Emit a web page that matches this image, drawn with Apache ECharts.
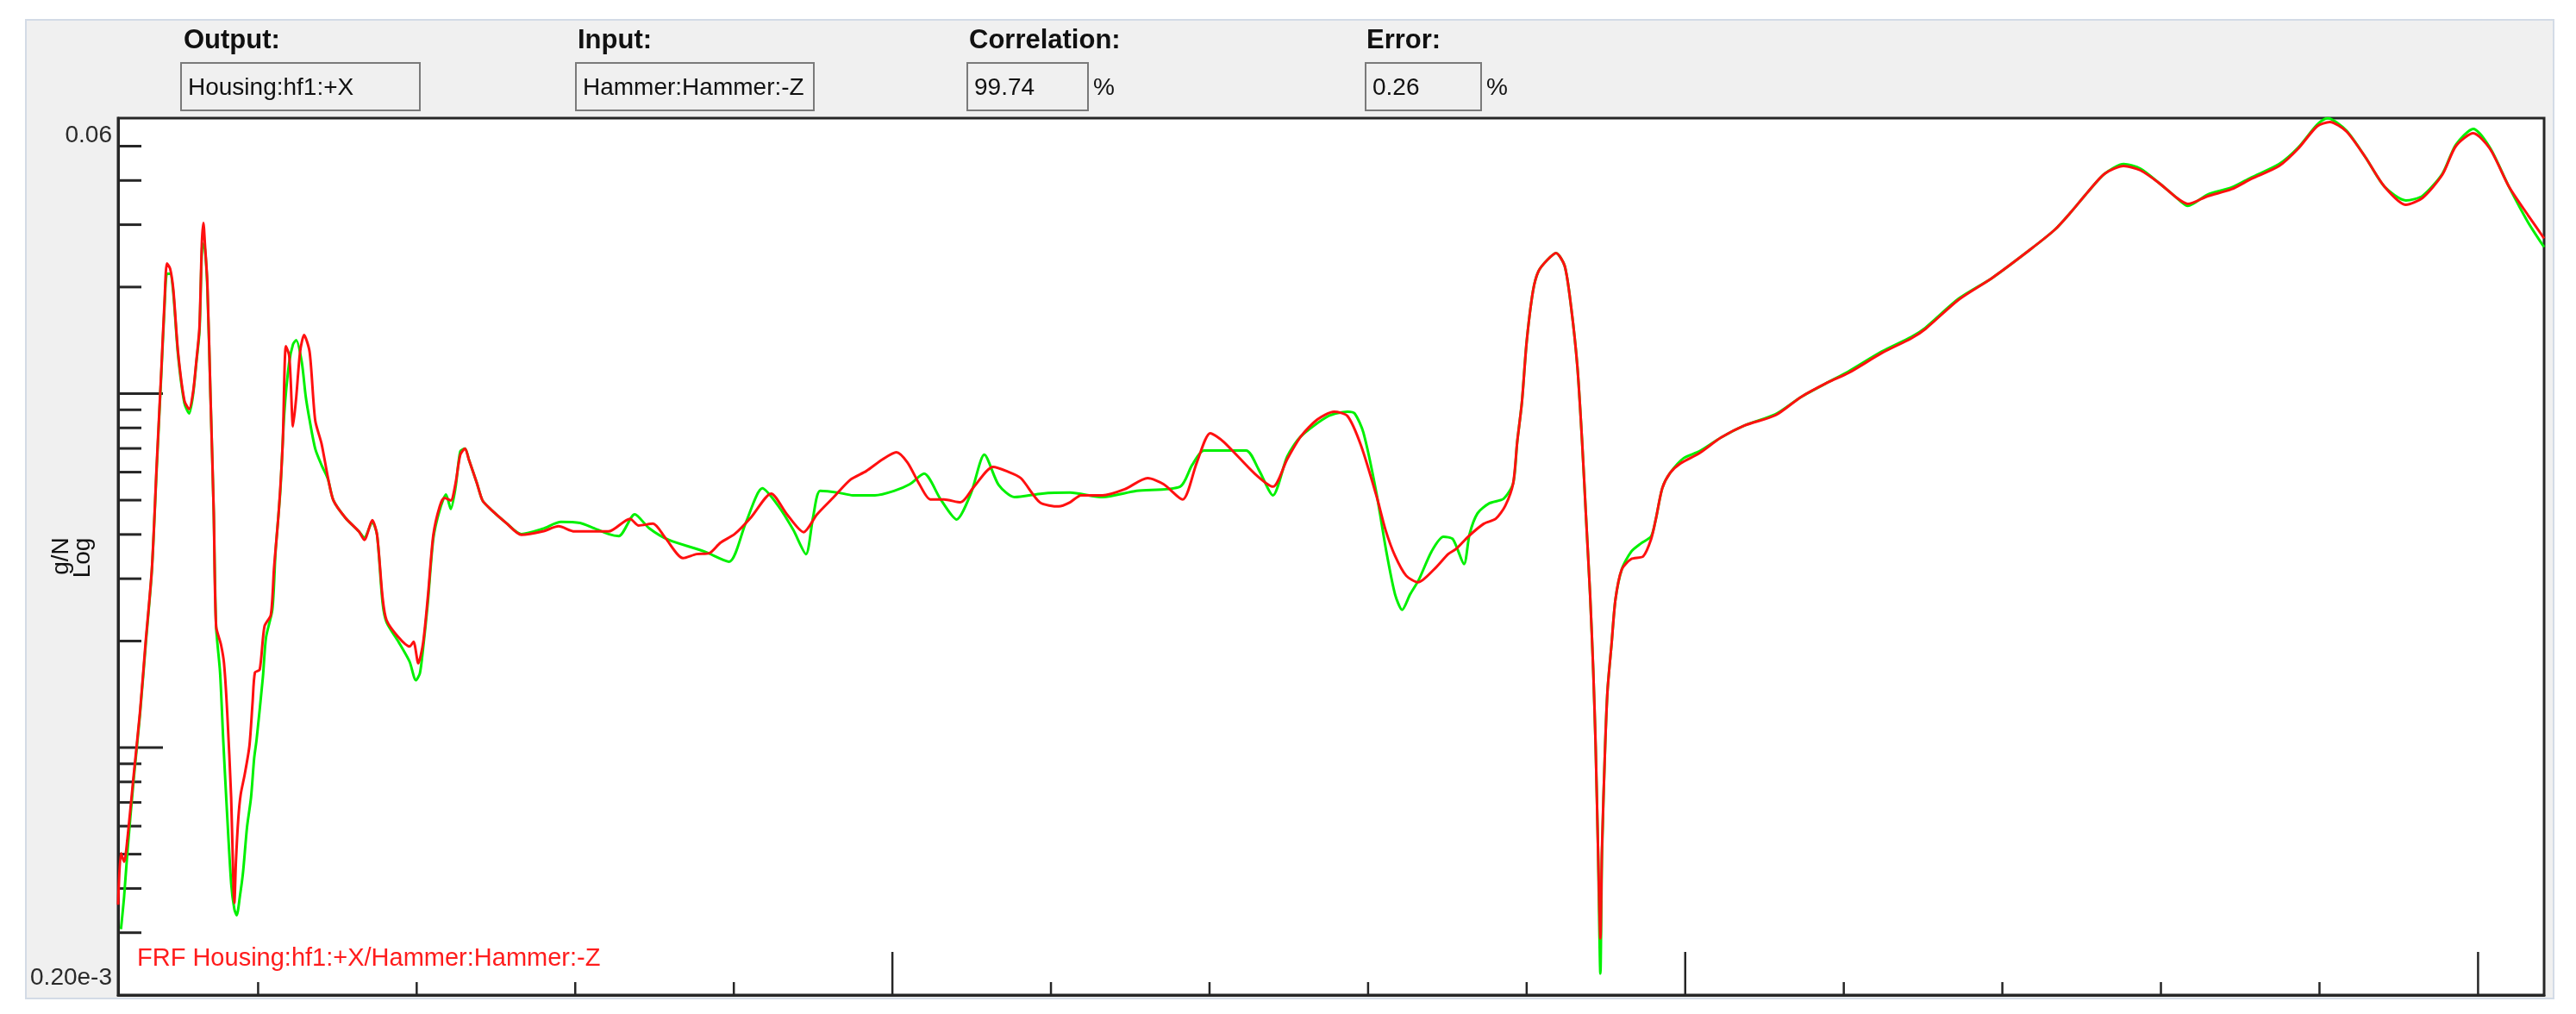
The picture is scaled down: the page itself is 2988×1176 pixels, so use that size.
<!DOCTYPE html>
<html>
<head>
<meta charset="utf-8">
<title>FRF Housing:hf1:+X/Hammer:Hammer:-Z</title>
<script src="https://cdn.jsdelivr.net/npm/echarts@6/dist/echarts.min.js"></script>
<style>
  html, body { margin: 0; padding: 0; background: #fff; }
  #chart { width: 2988px; height: 1176px; }
</style>
</head>
<body>
<div id="chart"></div>
<script>
var FONT = '"Liberation Sans", Arial, sans-serif'

// axis extents: frequency (Hz) and FRF magnitude (g/N, log)
var freqRange = [23.4, 3083.3]
var gainRange = [0.0002, 0.06]

var xTicksMajor = [1000, 2000, 3000]
var xTicksMinor = [200, 400, 600, 800, 1200, 1400, 1600, 1800, 2200, 2400, 2600, 2800]
var yTicksMajor = [0.01, 0.001]
var yTicksMinor = [0.05, 0.04, 0.03, 0.02, 0.009, 0.008, 0.007, 0.006, 0.005, 0.004, 0.003, 0.002,
  0.0009, 0.0008, 0.0007, 0.0006, 0.0005, 0.0004, 0.0003]
var yEndLabels = ['0.06', '0.20e-3']
var yAxisName = ['g/N', 'Log']

var headerLabels = ['Output:', 'Input:', 'Correlation:', 'Error:']
var headerValues = ['Housing:hf1:+X', 'Hammer:Hammer:-Z', '99.74', '0.26']
var headerUnits = ['', '', '%', '%']
var traceTitle = 'FRF Housing:hf1:+X/Hammer:Hammer:-Z'

// red trace [Hz, g/N]
var frfRed = [
  [23.4, 0.00036], [27, 0.000503], [31, 0.000476], [35, 0.000548], [43, 0.000834], [51, 0.00126], [58, 0.00197],
  [66, 0.0032], [72, 0.00624], [78, 0.01177], [82, 0.01832], [85, 0.02332], [89, 0.02255], [93, 0.01971],
  [99, 0.01309], [107, 0.00956], [113, 0.00904], [118, 0.01011], [122, 0.0123], [126, 0.0154], [129, 0.02653],
  [131, 0.03035], [133, 0.02624], [136, 0.0205], [140, 0.00972], [144, 0.00464], [147, 0.0022], [153, 0.00196],
  [157, 0.00173], [161, 0.00126], [166, 0.000721], [169, 0.000398], [170, 0.000364], [172, 0.000476], [175, 0.00063],
  [178, 0.000737], [183, 0.000838], [189, 0.00101], [193, 0.00134], [196, 0.00163], [202, 0.00166], [208, 0.0022],
  [216, 0.00237], [220, 0.0032], [226, 0.00464], [231, 0.00722], [235, 0.01361], [239, 0.01287], [241, 0.011],
  [244, 0.00808], [248, 0.00972], [253, 0.01316], [258, 0.01464], [265, 0.01309], [272, 0.0084], [280, 0.00722],
  [288, 0.0058], [295, 0.00499], [310, 0.00446], [327, 0.00408], [334, 0.00386], [344, 0.00439], [350, 0.00399],
  [357, 0.00265], [362, 0.00229], [377, 0.00205], [391, 0.00193], [396, 0.00199], [402, 0.00173], [408, 0.00197],
  [414, 0.00265], [421, 0.00399], [429, 0.0048], [435, 0.00507], [443, 0.00499], [449, 0.00558], [455, 0.00672],
  [461, 0.00699], [466, 0.00649], [476, 0.00558], [483, 0.00499], [493, 0.00472], [513, 0.00431], [532, 0.00399],
  [559, 0.00408], [579, 0.00422], [599, 0.00408], [621, 0.00408], [642, 0.00408], [669, 0.00443], [680, 0.00424],
  [698, 0.00429], [714, 0.0039], [736, 0.00343], [753, 0.00352], [769, 0.00354], [783, 0.00379], [801, 0.00401],
  [822, 0.00448], [847, 0.00522], [867, 0.00456], [888, 0.00406], [905, 0.00456], [926, 0.0051], [947, 0.00571],
  [967, 0.00604], [988, 0.00653], [1005, 0.00683], [1019, 0.00639], [1034, 0.00555], [1048, 0.00502], [1065, 0.00502],
  [1086, 0.00493], [1103, 0.00546], [1127, 0.00621], [1144, 0.00604], [1162, 0.00577], [1186, 0.00493], [1210, 0.0048],
  [1224, 0.00493], [1238, 0.00516], [1265, 0.00516], [1293, 0.00537], [1322, 0.00577], [1342, 0.00555], [1366, 0.00502],
  [1384, 0.00639], [1401, 0.00773], [1418, 0.0073], [1457, 0.00594], [1480, 0.00546], [1498, 0.00653], [1515, 0.00756],
  [1536, 0.00845], [1557, 0.00889], [1574, 0.00864], [1591, 0.00714], [1611, 0.0051], [1622, 0.00412], [1634, 0.00348],
  [1648, 0.00306], [1663, 0.00293], [1684, 0.0032], [1701, 0.00352], [1711, 0.00364], [1726, 0.00394], [1746, 0.00429],
  [1761, 0.00443], [1773, 0.00482], [1783, 0.00558], [1788, 0.00727], [1794, 0.00945], [1800, 0.014], [1808, 0.01949],
  [1815, 0.02218], [1826, 0.02385], [1837, 0.02495], [1848, 0.02293], [1856, 0.01762], [1864, 0.0119], [1870, 0.00727],
  [1875, 0.00443], [1880, 0.00271], [1884, 0.00165], [1887, 0.00101], [1890, 0.00052], [1893, 0.000289], [1895, 0.00052],
  [1899, 0.00101], [1902, 0.00145], [1907, 0.00195], [1912, 0.00262], [1920, 0.00319], [1932, 0.00341], [1947, 0.00347],
  [1957, 0.00388], [1963, 0.00443], [1971, 0.0054], [1981, 0.00597], [1994, 0.00635], [2018, 0.00679], [2045, 0.00751],
  [2075, 0.00813], [2114, 0.00869], [2146, 0.00978], [2180, 0.01076], [2206, 0.01144], [2248, 0.01302], [2285, 0.01432],
  [2303, 0.01523], [2345, 0.01843], [2387, 0.02121], [2435, 0.02551], [2466, 0.02902], [2486, 0.03246], [2508, 0.03715],
  [2529, 0.04178], [2553, 0.04395], [2574, 0.04274], [2598, 0.03929], [2620, 0.03572], [2634, 0.03434], [2659, 0.03612],
  [2689, 0.03778], [2714, 0.04042], [2749, 0.04395], [2773, 0.04917], [2797, 0.05689], [2813, 0.05851], [2834, 0.05501],
  [2858, 0.04649], [2882, 0.03842], [2909, 0.03415], [2930, 0.03572], [2955, 0.04155], [2972, 0.05], [2994, 0.05439],
  [3015, 0.04917], [3039, 0.03842], [3063, 0.03192], [3083.3, 0.02744]
]

// green trace [Hz, g/N]
var frfGreen = [
  [27, 0.000307], [31, 0.00038], [35, 0.000503], [43, 0.000811], [51, 0.00124], [58, 0.00193], [66, 0.00317],
  [72, 0.0061], [78, 0.01151], [82, 0.01772], [85, 0.02181], [89, 0.02181], [93, 0.01928], [99, 0.01287],
  [107, 0.0094], [113, 0.00879], [118, 0.00995], [122, 0.01217], [126, 0.01497], [130, 0.02653], [133, 0.02551],
  [136, 0.01982], [140, 0.00972], [144, 0.00464], [147, 0.0022], [152, 0.00163], [156, 0.00105], [160, 0.000705],
  [166, 0.000414], [170, 0.00035], [173, 0.000336], [177, 0.00038], [181, 0.000445], [186, 0.000596], [191, 0.000721],
  [195, 0.000933], [198, 0.00105], [206, 0.00158], [210, 0.00205], [218, 0.00246], [222, 0.00358], [228, 0.00531],
  [233, 0.00879], [239, 0.01217], [244, 0.01377], [248, 0.01416], [255, 0.0123], [260, 0.00983], [265, 0.0084],
  [272, 0.00699], [280, 0.00628], [288, 0.00574], [295, 0.00499], [310, 0.00446], [327, 0.00408], [334, 0.00392],
  [344, 0.00434], [350, 0.00399], [357, 0.00256], [362, 0.00226], [377, 0.00199], [391, 0.00175], [399, 0.00155],
  [404, 0.00162], [408, 0.0019], [414, 0.00256], [421, 0.0039], [429, 0.00469], [437, 0.00519], [443, 0.00472],
  [449, 0.00543], [455, 0.00687], [461, 0.00699], [466, 0.00649], [476, 0.00558], [483, 0.00499], [493, 0.00472],
  [513, 0.00431], [532, 0.00401], [559, 0.00415], [582, 0.00434], [606, 0.00431], [621, 0.00419], [642, 0.00401],
  [655, 0.00396], [675, 0.00456], [693, 0.00417], [718, 0.00386], [763, 0.00358], [794, 0.00335], [815, 0.00431],
  [836, 0.0054], [856, 0.00482], [875, 0.00412], [891, 0.00352], [900, 0.00448], [909, 0.00531], [932, 0.00525],
  [950, 0.00516], [978, 0.00516], [1002, 0.00531], [1022, 0.00555], [1040, 0.00594], [1061, 0.00502], [1081, 0.00441],
  [1099, 0.00522], [1116, 0.00672], [1134, 0.00552], [1154, 0.0051], [1189, 0.00522], [1224, 0.00525], [1265, 0.0051],
  [1308, 0.00531], [1363, 0.00546], [1378, 0.00628], [1393, 0.00691], [1446, 0.00691], [1462, 0.0061], [1480, 0.00516],
  [1498, 0.00664], [1515, 0.00756], [1550, 0.00864], [1574, 0.00889], [1583, 0.00879], [1594, 0.00777], [1610, 0.00531],
  [1623, 0.00358], [1634, 0.00271], [1643, 0.00245], [1653, 0.00271], [1664, 0.00298], [1680, 0.00358], [1695, 0.00394],
  [1707, 0.00388], [1721, 0.0033], [1728, 0.00401], [1738, 0.00459], [1753, 0.0049], [1771, 0.00505], [1783, 0.00558],
  [1788, 0.00727], [1794, 0.00945], [1800, 0.014], [1808, 0.01949], [1815, 0.02218], [1826, 0.02385], [1837, 0.02495],
  [1848, 0.02293], [1856, 0.01762], [1864, 0.0119], [1870, 0.00727], [1875, 0.00443], [1880, 0.00271], [1884, 0.00165],
  [1887, 0.00101], [1890, 0.00052], [1893, 0.00023], [1895, 0.0005], [1899, 0.00101], [1902, 0.00145], [1907, 0.00195],
  [1912, 0.00262], [1920, 0.00319], [1932, 0.00358], [1944, 0.00377], [1957, 0.00395], [1963, 0.00443], [1971, 0.0054],
  [1981, 0.00597], [1998, 0.00657], [2018, 0.00687], [2045, 0.00751], [2075, 0.00813], [2114, 0.00875], [2146, 0.00978],
  [2180, 0.01076], [2206, 0.01155], [2248, 0.01315], [2285, 0.01445], [2303, 0.01535], [2345, 0.01855], [2387, 0.02121],
  [2435, 0.02551], [2466, 0.02902], [2486, 0.03246], [2508, 0.03715], [2529, 0.04178], [2553, 0.0445], [2574, 0.0432],
  [2598, 0.03929], [2620, 0.03572], [2634, 0.0339], [2659, 0.0365], [2689, 0.0382], [2714, 0.0408], [2749, 0.0445],
  [2773, 0.0495], [2797, 0.0575], [2810, 0.06], [2834, 0.0553], [2858, 0.0465], [2882, 0.0384], [2909, 0.03513],
  [2930, 0.0362], [2955, 0.0418], [2972, 0.0505], [2994, 0.05594], [3015, 0.0495], [3039, 0.0384], [3063, 0.0305],
  [3083.3, 0.02594]
]

// header layout (label x, box x, box width)
var headerSlots = [
  { x: 213, boxX: 210, boxW: 277 },
  { x: 670, boxX: 668, boxW: 276 },
  { x: 1124, boxX: 1122, boxW: 140 },
  { x: 1585, boxX: 1584, boxW: 134 }
]

function tickSeries (values, axis, len) {
  return {
    type: 'custom',
    silent: true,
    z: 1,
    animation: false,
    data: values.map(function (v) {
      return axis === 'x' ? [v, gainRange[0]] : [freqRange[0], v]
    }),
    renderItem: function (params, api) {
      var p = api.coord([api.value(0), api.value(1)])
      var shape = axis === 'x'
        ? { x1: p[0], y1: p[1], x2: p[0], y2: p[1] - len }
        : { x1: p[0], y1: p[1], x2: p[0] + len, y2: p[1] }
      return { type: 'line', shape: shape, style: { stroke: '#262626', lineWidth: axis === 'x' ? 2.5 : 3 } }
    }
  }
}

var graphics = [
  // grey window panel
  { type: 'rect', z: -10, shape: { x: 30, y: 23, width: 2932, height: 1135 },
    style: { fill: '#f0f0f0', stroke: '#d3dbe6', lineWidth: 2 } }
]
headerLabels.forEach(function (label, i) {
  var s = headerSlots[i]
  graphics.push({ type: 'text', z: 10, x: s.x, y: 47,
    style: { text: label, font: 'bold 31px ' + FONT, fill: '#111', align: 'left', verticalAlign: 'middle' } })
  graphics.push({ type: 'rect', z: 5, shape: { x: s.boxX, y: 73, width: s.boxW, height: 55 },
    style: { fill: '#f0f0f0', stroke: '#7a7a7a', lineWidth: 2 } })
  graphics.push({ type: 'text', z: 10, x: s.boxX + 8, y: 102,
    style: { text: headerValues[i], font: '28px ' + FONT, fill: '#111', align: 'left', verticalAlign: 'middle' } })
  if (headerUnits[i]) {
    graphics.push({ type: 'text', z: 10, x: s.boxX + s.boxW + 6, y: 102,
      style: { text: headerUnits[i], font: '28px ' + FONT, fill: '#111', align: 'left', verticalAlign: 'middle' } })
  }
})
graphics.push({ type: 'text', z: 10, x: 130, y: 157,
  style: { text: yEndLabels[0], font: '28px ' + FONT, fill: '#2a2a2a', align: 'right', verticalAlign: 'middle' } })
graphics.push({ type: 'text', z: 10, x: 130, y: 1134,
  style: { text: yEndLabels[1], font: '28px ' + FONT, fill: '#2a2a2a', align: 'right', verticalAlign: 'middle' } })
graphics.push({ type: 'text', z: 10, x: 71, y: 645, rotation: Math.PI / 2,
  style: { text: yAxisName[0], font: '28px ' + FONT, fill: '#111', align: 'center', verticalAlign: 'middle' } })
graphics.push({ type: 'text', z: 10, x: 96, y: 647, rotation: Math.PI / 2,
  style: { text: yAxisName[1], font: '28px ' + FONT, fill: '#111', align: 'center', verticalAlign: 'middle' } })
graphics.push({ type: 'text', z: 10, x: 159, y: 1112,
  style: { text: traceTitle, font: '29px ' + FONT, fill: '#ff1c1c', align: 'left', verticalAlign: 'middle' } })

var chart = echarts.init(document.getElementById('chart'), null, { renderer: 'canvas' })
chart.setOption({
  animation: false,
  backgroundColor: '#fff',
  grid: {
    left: 137, top: 137, right: 37, bottom: 22,
    show: true,
    backgroundColor: '#fff',
    borderColor: '#262626',
    borderWidth: 3
  },
  xAxis: {
    type: 'value',
    min: freqRange[0],
    max: freqRange[1],
    axisLine: { show: true, onZero: false, lineStyle: { color: '#262626', width: 3 } },
    axisTick: { show: false },
    axisLabel: { show: false },
    splitLine: { show: false }
  },
  yAxis: {
    type: 'log',
    logBase: 10,
    min: gainRange[0],
    max: gainRange[1],
    axisLine: { show: true, lineStyle: { color: '#262626', width: 3 } },
    axisTick: { show: false },
    axisLabel: { show: false },
    splitLine: { show: false }
  },
  graphic: graphics,
  series: [
    tickSeries(xTicksMinor, 'x', 15),
    tickSeries(xTicksMajor, 'x', 50),
    tickSeries(yTicksMinor, 'y', 27),
    tickSeries(yTicksMajor, 'y', 52),
    {
      name: 'green',
      type: 'line',
      data: frfGreen,
      symbol: 'none',
      smooth: 0.25,
      z: 3,
      lineStyle: { color: '#00f000', width: 3 }
    },
    {
      name: 'red',
      type: 'line',
      data: frfRed,
      symbol: 'none',
      smooth: 0.25,
      z: 4,
      lineStyle: { color: '#ff1010', width: 3 }
    }
  ]
})
</script>
</body>
</html>
